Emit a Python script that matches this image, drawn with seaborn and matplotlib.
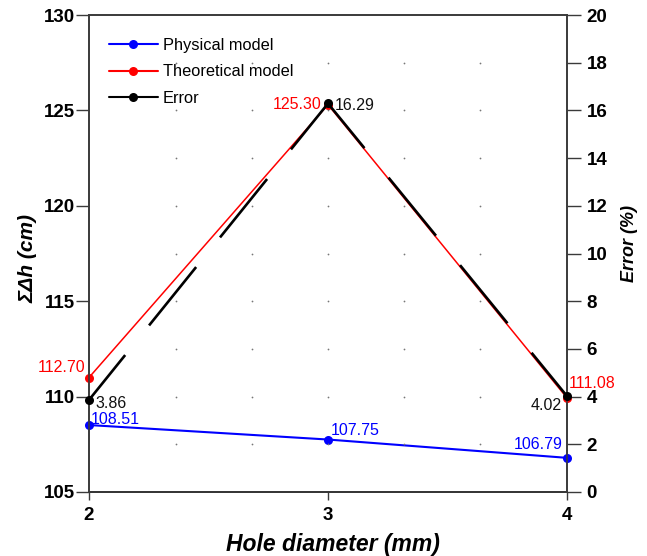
import matplotlib
matplotlib.use("Agg")
import matplotlib.pyplot as plt
import seaborn as sns
import numpy as np
from matplotlib.lines import Line2D

# ---- data ----
hole_diameter = [2, 3, 4]
physical_model = [108.51, 107.75, 106.79]
theoretical_model = [111.0, 125.30, 109.93]          # plotted positions
physical_labels = ["108.51", "107.75", "106.79"]
theoretical_labels = ["112.70", "125.30", "111.08"]
error_pct = [3.86, 16.29, 4.02]
error_labels = ["3.86", "16.29", "4.02"]
series_names = ["Physical model", "Theoretical model", "Error"]
x_ticks = [2, 3, 4]
left_ticks = [105, 110, 115, 120, 125, 130]
right_ticks = [0, 2, 4, 6, 8, 10, 12, 14, 16, 18, 20]

sns.set_theme(style="white")
plt.rcParams["font.family"] = ["Liberation Sans", "DejaVu Sans"]
plt.rcParams["lines.scale_dashes"] = False
plt.rcParams["text.color"] = "black"
plt.rcParams["axes.labelcolor"] = "black"
plt.rcParams["xtick.color"] = "black"
plt.rcParams["ytick.color"] = "black"

BLUE, RED, BLACK = "#0000FF", "#FF0000", "#000000"
SPINE = "#3a3a3a"

fig = plt.figure(figsize=(6.47, 5.56), dpi=100)
ax = fig.add_axes([89 / 647, 1 - 492 / 556, 478 / 647, 477 / 556])
ax2 = ax.twinx()

# left-axis series
sns.lineplot(x=hole_diameter, y=physical_model, ax=ax, color=BLUE, lw=1.5,
             marker="o", markersize=6.5, markeredgewidth=0, zorder=3, clip_on=False)
sns.lineplot(x=hole_diameter, y=theoretical_model, ax=ax, color=RED, lw=1.1,
             marker="o", markersize=6.5, markeredgewidth=0, zorder=3, clip_on=False)

# background dotted grid (on twin axis)
gx = [3 + k * 0.3175 for k in (-2, -1, 0, 1, 2)]
gy = right_ticks[1:-1]
GX, GY = np.meshgrid(gx, gy)
ax2.scatter(GX.ravel(), GY.ravel(), s=1.6, color="#777777", linewidths=0, zorder=0)

# error series, each segment dashed independently
for i in range(len(hole_diameter) - 1):
    sns.lineplot(x=hole_diameter[i:i + 2], y=error_pct[i:i + 2], ax=ax2, color=BLACK,
                 lw=1.9, linestyle=(12.5, (54, 27.4)), zorder=4, clip_on=False)
sns.lineplot(x=hole_diameter, y=error_pct, ax=ax2, color=BLACK, lw=0,
             marker="o", markersize=6.5, markeredgewidth=0, zorder=5, clip_on=False)

ax.set_xlim(2, 4)
ax.set_ylim(105, 130)
ax2.set_ylim(0, 20)
ax.set_xticks(x_ticks)
ax.set_xticklabels([str(v) for v in x_ticks])
ax.set_yticks(left_ticks)
ax2.set_yticks(right_ticks)

for lab in ax.get_xticklabels() + ax.get_yticklabels() + ax2.get_yticklabels():
    lab.set_fontsize(13.5)
    lab.set_fontweight("bold")
    lab.set_color("black")

ax.tick_params(axis="y", which="major", direction="out", length=9.5, width=1.0,
               color=SPINE, pad=0.5, left=True)
ax.tick_params(axis="x", which="major", direction="out", length=6, width=1.0,
               color=SPINE, pad=5, bottom=True)
ax2.tick_params(axis="y", which="major", direction="out", length=10, width=1.0,
                color=SPINE, pad=4, right=True)

for a in (ax, ax2):
    for s in a.spines.values():
        s.set_visible(True)
        s.set_color(SPINE)
        s.set_linewidth(1.2)
ax.spines["bottom"].set_color("#000000")

ax.set_xlabel("Hole diameter (mm)", fontsize=16.5, fontweight="bold", fontstyle="italic", color="black")
ax.set_ylabel("ΣΔh (cm)", fontsize=15, fontweight="bold", fontstyle="italic", color="black")
ax2.set_ylabel("Error (%)", fontsize=13, fontweight="bold", fontstyle="italic", color="black")
ax.xaxis.set_label_coords(0.510, -0.085)
ax.yaxis.set_label_coords(-0.108, 0.49)
ax2.yaxis.set_label_coords(1.112, 0.522)

# annotations (offsets in points)
ann = dict(fontsize=11.5, textcoords="offset points", va="baseline")
p_off = [(1.5, 1, "left"), (2, 3, "left"), (-3, 6.5, "right")]
t_off = [(-2.5, 4, "right"), (-4.5, -3, "right"), (1, 7.5, "left")]
e_off = [(4.5, -6, "left"), (5, -4.5, "left"), (-3.5, -10, "right")]
for xv, yv, t, (dx, dy, ha) in zip(hole_diameter, physical_model, physical_labels, p_off):
    ax2.annotate(t, (xv, yv), xycoords=ax.transData, xytext=(dx, dy), ha=ha, color=BLUE, **ann)
for xv, yv, t, (dx, dy, ha) in zip(hole_diameter, theoretical_model, theoretical_labels, t_off):
    ax2.annotate(t, (xv, yv), xycoords=ax.transData, xytext=(dx, dy), ha=ha, color=RED, **ann)
for xv, yv, t, (dx, dy, ha) in zip(hole_diameter, error_pct, error_labels, e_off):
    ax2.annotate(t, (xv, yv), xytext=(dx, dy), ha=ha, color="#111111", **ann)

handles = [Line2D([], [], color=c, lw=1.5, marker="o", markersize=6.5, markeredgewidth=0)
           for c in (BLUE, RED, BLACK)]
leg = ax2.legend(handles, series_names, loc="upper left", bbox_to_anchor=(0.0, 0.994),
                 frameon=False, fontsize=11.8, handlelength=3.0, handletextpad=0.3,
                 labelspacing=0.72, borderaxespad=0.6, borderpad=0.6)
for t in leg.get_texts():
    t.set_color("black")

fig.savefig("out.png", dpi=100)
